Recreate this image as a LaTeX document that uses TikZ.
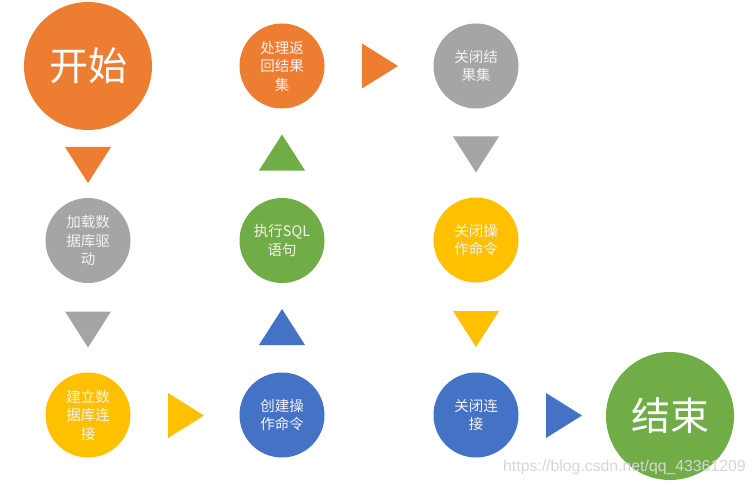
\documentclass[tikz,border=0pt]{standalone}
\usepackage{fontspec}
\newfontfamily\cjk{Noto Sans CJK SC}
\setsansfont{Liberation Sans}
\definecolor{ppOrange}{HTML}{ED7D31}
\definecolor{ppGrey}{HTML}{A5A5A5}
\definecolor{ppYellow}{HTML}{FFC000}
\definecolor{ppBlue}{HTML}{4472C4}
\definecolor{ppGreen}{HTML}{70AD47}

\tikzset{
	stepnode/.style={circle, minimum size=85pt, inner sep=0pt, text=white!95!black,
		align=center, font=\cjk\fontsize{14.5}{18.5}\selectfont},
	bigstep/.style={circle, minimum size=128pt, inner sep=0pt, text=white,
		font=\cjk\fontsize{39}{44}\selectfont},
	tri down/.pic={\fill (-23,-18) -- (23,-18) -- (0,18) -- cycle;},
	tri up/.pic={\fill (-23,18) -- (23,18) -- (0,-18) -- cycle;},
	tri right/.pic={\fill (-18,-22.5) -- (-18,22.5) -- (18,0) -- cycle;}
}

\begin{document}
\begin{tikzpicture}[x=1pt,y=-1pt]
		\useasboundingbox (0,0) rectangle (755,484);
		% first column
		\node[bigstep,fill=ppOrange] (start) at (88,66) {开始};
		\node[stepnode,fill=ppGrey] (load) at (88,240.5) {加载数\\据库驱\\动};
		\node[stepnode,fill=ppYellow] (conn) at (88,415) {建立数\\据库连\\接};
		% second column
		\node[stepnode,fill=ppBlue] (stmt) at (282,415) {创建操\\作命令};
		\node[stepnode,fill=ppGreen] (exec) at (282,240.5) {执行SQL\\语句};
		\node[stepnode,fill=ppOrange] (result) at (282,66) {处理返\\回结果\\集};
		% third column
		\node[stepnode,fill=ppGrey] (closers) at (476,66) {关闭结\\果集};
		\node[stepnode,fill=ppYellow] (closestmt) at (476,240) {关闭操\\作命令};
		\node[stepnode,fill=ppBlue] (closeconn) at (476,415) {关闭连\\接};
		\node[bigstep,fill=ppGreen] (end) at (670,416) {结束};
		% triangles
		\pic[ppOrange] at (88,165) {tri down};
		\pic[ppGrey] at (88,329.5) {tri down};
		\pic[ppYellow] at (186,415.5) {tri right};
		\pic[ppBlue] at (282,327) {tri up};
		\pic[ppGreen] at (282,152.5) {tri up};
		\pic[ppOrange] at (380,66) {tri right};
		\pic[ppGrey] at (476,154.5) {tri down};
		\pic[ppYellow] at (476,329) {tri down};
		\pic[ppBlue] at (564,415.5) {tri right};
		\node[anchor=base west, inner sep=0pt, text=black!16,
			font=\sffamily\fontsize{15.8}{16}\selectfont] (mark) at (503,471) {https://blog.csdn.net/qq\_43361209};
	\end{tikzpicture}
\end{document}
